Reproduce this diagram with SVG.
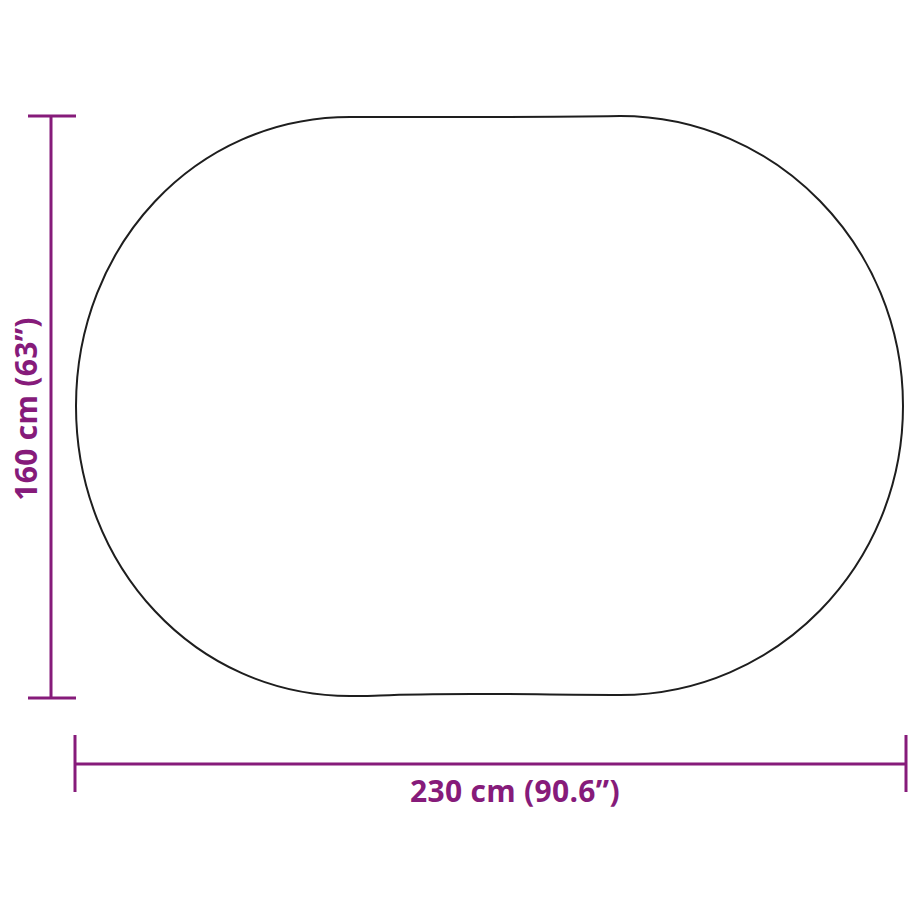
<svg xmlns="http://www.w3.org/2000/svg" width="922" height="922" viewBox="0 0 922 922">
<style>
.dim{stroke:#861b7a;stroke-width:3;fill:none}
.lbl{fill:#861b7a;font-family:"Open Sans","Liberation Sans",sans-serif;font-weight:bold;font-size:30px;text-anchor:middle;letter-spacing:0.3px}
.shape{fill:none;stroke:#1e1e1e;stroke-width:2}
</style>
<rect width="922" height="922" fill="#ffffff"/>
<g id="rug">
<path class="shape" d="M 350 117 C 450 117 520 117.5 620 116 C 776 116 903 246 903 406 C 903 566 776 695 620 695 C 530 695 460 692 380 695.5 C 370 696 360 696 350 696 C 195 696 76 566 76 406 C 76 246 195 117 350 117 Z"/>
</g>
<g id="connectors">
<g id="height-dim">
<line class="dim" x1="51" y1="116" x2="51" y2="698"/>
<line class="dim" x1="28" y1="116" x2="76" y2="116"/>
<line class="dim" x1="28" y1="698" x2="76" y2="698"/>
</g>
<g id="width-dim">
<line class="dim" x1="75" y1="764" x2="906" y2="764"/>
<line class="dim" x1="75" y1="735" x2="75" y2="792"/>
<line class="dim" x1="906" y1="735" x2="906" y2="792"/>
</g>
</g>
<g id="labels">
<text class="lbl" x="515" y="802">230 cm (90.6”)</text>
<text class="lbl" transform="translate(37 409) rotate(-90)" x="0" y="0">160 cm (63”)</text>
</g>
</svg>
